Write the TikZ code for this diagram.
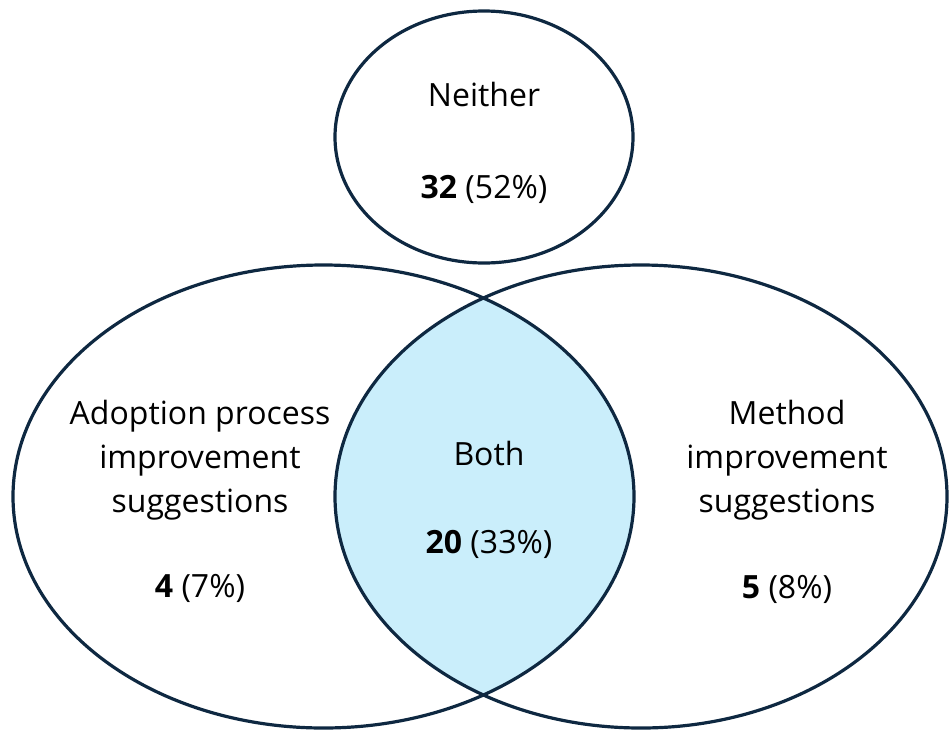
\documentclass[tikz,border=0pt]{standalone}
\usepackage{fontspec}
\setmainfont{Open Sans}
\usetikzlibrary{positioning}
\definecolor{vennline}{HTML}{0E2841}
\definecolor{vennfill}{HTML}{CAEEFB}

\begin{document}
\begin{tikzpicture}[x=1pt, y=-1pt,
  outline/.style={draw=vennline, line width=3.2pt},
  txt/.style={font=\fontsize{32}{44}\selectfont, align=center, anchor=base, inner sep=0pt}]
  \useasboundingbox (0,0) rectangle (949,731);

  % centres of the three sets
  \coordinate (neithermid) at (484,137);
  \coordinate (adoptmid) at (323.5,496.5);
  \coordinate (methodmid) at (641,496.5);

  % overlap of the two lower sets
  \begin{scope}
    \clip (adoptmid) ellipse [x radius=310.5, y radius=231.5];
    \fill[vennfill] (methodmid) ellipse [x radius=306, y radius=231.5];
  \end{scope}

  % outlines
  \draw[outline] (neithermid) ellipse [x radius=149, y radius=126];
  \draw[outline] (adoptmid) ellipse [x radius=310.5, y radius=231.5];
  \draw[outline] (methodmid) ellipse [x radius=306, y radius=231.5];

  % labels and counts (base = last line)
  \node[txt] (neither) at (484,106) {Neither};
  \node[txt] (neithern) at (484,198) {\textbf{32} (52\%)};
  \node[txt] (adopt) at (200,512) {Adoption process\\improvement\\suggestions};
  \node[txt] (adoptn) at (200,597) {\textbf{4} (7\%)};
  \node[txt] (both) at (489,465) {Both};
  \node[txt] (bothn) at (489,553) {\textbf{20} (33\%)};
  \node[txt] (method) at (787,512) {Method\\improvement\\suggestions};
  \node[txt] (methodn) at (787,598) {\textbf{5} (8\%)};
\end{tikzpicture}
\end{document}
